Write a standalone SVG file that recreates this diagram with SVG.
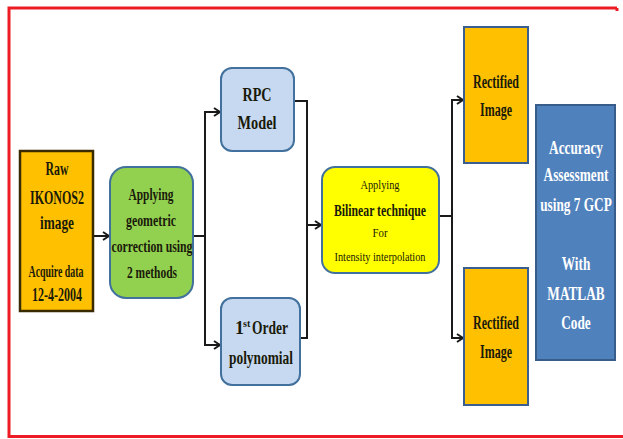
<svg xmlns="http://www.w3.org/2000/svg" width="623" height="439" viewBox="0 0 623 439">
<defs>
<marker id="arr" markerWidth="10" markerHeight="10" refX="8" refY="5" orient="auto" markerUnits="userSpaceOnUse">
<polyline points="2,1 8,5 2,9" fill="none" stroke="#1a1a1a" stroke-width="2"/>
</marker>
</defs>
<style>
.t{font-family:"Liberation Serif","Times New Roman",serif;font-weight:bold;text-anchor:middle;fill:#1a1a0a}
.n{font-weight:normal}
.w{fill:#ffffff}
.s{text-anchor:start}
.c{fill:none;stroke:#1a1a1a;stroke-width:2}
.org{fill:#FFC000}
.blu{stroke:#41719C;stroke-width:2}
</style>
<rect width="623" height="439" fill="#ffffff"/>
<g id="frame" fill="none" stroke="#ED1C24" stroke-width="3">
<polyline points="617,8 9,8 9,436.5 623,436.5"/>
<line x1="617" y1="8" x2="617" y2="11"/>
</g>
<g id="connectors">
<line class="c" x1="93" y1="236" x2="109" y2="236" marker-end="url(#arr)"/>
<line class="c" x1="193" y1="236" x2="205" y2="236"/>
<polyline class="c" points="220,112 205,112 205,345 220,345" marker-end="url(#arr)"/>
<line class="c" x1="205" y1="112" x2="220" y2="112" marker-end="url(#arr)"/>
<polyline class="c" points="294,101 307,101 307,338 300,338"/>
<line class="c" x1="307" y1="225" x2="321" y2="225" marker-end="url(#arr)"/>
<line class="c" x1="439" y1="216" x2="452" y2="216"/>
<polyline class="c" points="463,100 452,100 452,338 463,338" marker-end="url(#arr)"/>
<line class="c" x1="452" y1="100" x2="463" y2="100" marker-end="url(#arr)"/>
</g>
<g id="raw">
<rect x="20" y="151" width="73" height="160" class="org" stroke="#3a2a00" stroke-width="2.5"/>
<text class="t" x="57" y="175" font-size="18" textLength="23" lengthAdjust="spacingAndGlyphs">Raw</text>
<text class="t" x="57" y="204" font-size="18" textLength="54" lengthAdjust="spacingAndGlyphs">IKONOS2</text>
<text class="t" x="57" y="229" font-size="18" textLength="34" lengthAdjust="spacingAndGlyphs">image</text>
<text class="t" x="56" y="277" font-size="17" textLength="55" lengthAdjust="spacingAndGlyphs">Acquire data</text>
<text class="t" x="57" y="301" font-size="18" textLength="50" lengthAdjust="spacingAndGlyphs">12-4-2004</text>
</g>
<g id="geo">
<rect x="110" y="167" width="83" height="131" rx="16" fill="#92D050" class="blu"/>
<text class="t" x="151" y="200" font-size="17" textLength="45" lengthAdjust="spacingAndGlyphs">Applying</text>
<text class="t" x="151" y="226" font-size="17" textLength="50" lengthAdjust="spacingAndGlyphs">geometric</text>
<text class="t" x="152" y="252" font-size="17" textLength="81" lengthAdjust="spacingAndGlyphs">correction using</text>
<text class="t" x="152" y="278" font-size="17" textLength="50" lengthAdjust="spacingAndGlyphs">2 methods</text>
</g>
<g id="rpc">
<rect x="221" y="68" width="73" height="83" rx="11" fill="#C6D9F1" class="blu"/>
<text class="t" x="257" y="101" font-size="18" textLength="29" lengthAdjust="spacingAndGlyphs">RPC</text>
<text class="t" x="257" y="129" font-size="18" textLength="39" lengthAdjust="spacingAndGlyphs">Model</text>
</g>
<g id="poly">
<rect x="221" y="298" width="79" height="87" rx="11" fill="#C6D9F1" class="blu"/>
<text class="t s" x="235" y="334" font-size="18">1</text>
<text class="t s" x="243" y="327" font-size="10">st</text>
<text class="t s" x="252" y="334" font-size="18" textLength="36" lengthAdjust="spacingAndGlyphs">Order</text>
<text class="t" x="261" y="364" font-size="18" textLength="64" lengthAdjust="spacingAndGlyphs">polynomial</text>
</g>
<g id="bilinear">
<rect x="322" y="167" width="117" height="106" rx="13" fill="#FFFF00" class="blu"/>
<text class="t n" x="380" y="189" font-size="13" textLength="39" lengthAdjust="spacingAndGlyphs">Applying</text>
<text class="t" x="380" y="216" font-size="16" textLength="92" lengthAdjust="spacingAndGlyphs">Bilinear technique</text>
<text class="t n" x="380" y="237" font-size="13" textLength="15" lengthAdjust="spacingAndGlyphs">For</text>
<text class="t n" x="380" y="261" font-size="13" textLength="91" lengthAdjust="spacingAndGlyphs">Intensity interpolation</text>
</g>
<g id="rect1">
<rect x="464" y="27" width="64" height="136" class="org" stroke="#3B5E91" stroke-width="2"/>
<text class="t" x="496" y="88" font-size="18" textLength="46" lengthAdjust="spacingAndGlyphs">Rectified</text>
<text class="t" x="496" y="116" font-size="18" textLength="32" lengthAdjust="spacingAndGlyphs">Image</text>
</g>
<g id="rect2">
<rect x="464" y="268" width="64" height="137" class="org" stroke="#3B5E91" stroke-width="2"/>
<text class="t" x="496" y="329" font-size="18" textLength="46" lengthAdjust="spacingAndGlyphs">Rectified</text>
<text class="t" x="496" y="358" font-size="18" textLength="32" lengthAdjust="spacingAndGlyphs">Image</text>
</g>
<g id="accuracy">
<rect x="536" y="105" width="79" height="255" fill="#4F81BD" stroke="#385D8A" stroke-width="2"/>
<g transform="translate(576,0) scale(0.7,1)">
<text class="t w" x="0" y="154" font-size="19">Accuracy</text>
<text class="t w" x="0" y="181" font-size="19">Assessment</text>
<text class="t w" x="0" y="211" font-size="19">using 7 GCP</text>
<text class="t w" x="0" y="270" font-size="19">With</text>
<text class="t w" x="0" y="300" font-size="19">MATLAB</text>
<text class="t w" x="0" y="329" font-size="19">Code</text>
</g>
</g>
</svg>
